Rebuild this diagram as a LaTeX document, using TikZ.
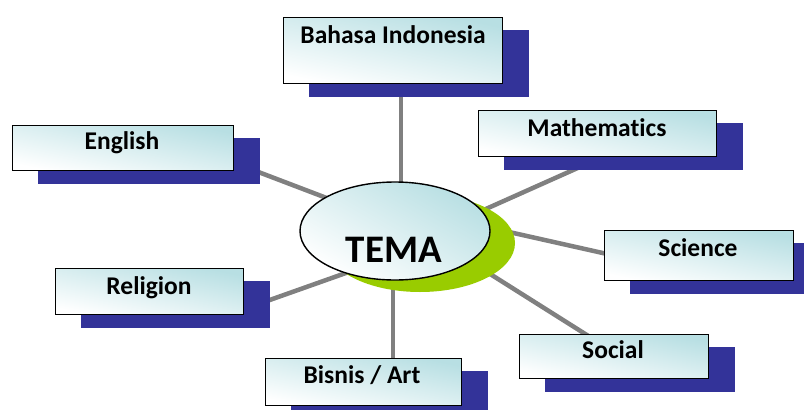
\documentclass[tikz,border=0pt]{standalone}
\usepackage{fontspec}
\setmainfont[Ligatures=NoCommon]{Carlito}
\usetikzlibrary{shapes.geometric,calc}
\definecolor{shadowblue}{RGB}{51,51,153}
\definecolor{linegray}{RGB}{128,128,128}
\definecolor{limegreen}{RGB}{153,204,0}
\definecolor{paleteal}{RGB}{184,223,227}
\pgfdeclarelayer{bg}
\pgfdeclarelayer{mid}
\pgfsetlayers{bg,mid,main}
\begin{document}
\begin{tikzpicture}[x=1pt,y=-1pt,
  conn/.style={draw=linegray,line width=4.5pt},
  shad/.style={fill=shadowblue},
  topicbox/.style={draw=black,line width=1.4pt,bottom color=white,top color=paleteal,shading angle=-12,inner sep=0pt,anchor=north west},
  lbl/.style={font=\bfseries\fontsize{25.5}{25.5}\selectfont,anchor=base,inner sep=0pt},
]
\useasboundingbox (0,0) rectangle (804,410);

% boxes
\node[topicbox,minimum width=219pt,minimum height=66pt] (bahasa) at (283,17) {};
\node[topicbox,minimum width=221pt,minimum height=45pt] (english) at (12,125) {};
\node[topicbox,minimum width=238pt,minimum height=46pt] (math) at (478,110) {};
\node[topicbox,minimum width=189pt,minimum height=50pt] (science) at (604,230) {};
\node[topicbox,minimum width=189pt,minimum height=44pt] (social) at (519,334) {};
\node[topicbox,minimum width=188pt,minimum height=46pt] (religion) at (55,268) {};
\node[topicbox,minimum width=196pt,minimum height=47pt] (bisnis) at (265,358) {};

% labels
\node[lbl] (t-bahasa) at (393,43) {Bahasa Indonesia};
\node[lbl] (t-english) at (122,149) {English};
\node[lbl] (t-math) at (597,136) {Mathematics};
\node[lbl] (t-science) at (698,256) {Science};
\node[lbl] (t-social) at (613,358) {Social};
\node[lbl] (t-religion) at (149,294) {Religion};
\node[lbl] (t-bisnis) at (362,383) {Bisnis / Art};

% shadows
\begin{pgfonlayer}{mid}
\foreach \b in {bahasa,english,math,science,social,religion,bisnis}{
  \fill[shad] ($(\b.north west)+(26,13)$) rectangle ($(\b.south east)+(26,13)$);
}
\node[ellipse,fill=limegreen,minimum width=190pt,minimum height=98pt,inner sep=0pt] (temashadow) at (420,243) {};
\end{pgfonlayer}

% central ellipse
\node[ellipse,draw=black,line width=1.4pt,bottom color=white,top color=paleteal,shading angle=-30,minimum width=190pt,minimum height=98pt,inner sep=0pt] (tema) at (395,231) {};
\node[font=\bfseries\fontsize{39}{39}\selectfont,anchor=base,inner sep=0pt] (t-tema) at (394,262) {TEMA};

% connectors
\coordinate (c-bahasa) at (401,190);
\coordinate (c-english) at (345,205);
\coordinate (e-english) at (240,165);
\coordinate (c-math) at (450,225);
\coordinate (e-math) at (600,158);
\coordinate (c-science) at (460,221);
\coordinate (e-science) at (625,258);
\coordinate (c-social) at (460,255);
\coordinate (e-social) at (590,337);
\coordinate (c-religion) at (360,268);
\coordinate (e-religion) at (250,307);
\coordinate (c-bisnis) at (393,270);
\begin{pgfonlayer}{bg}
\draw[conn] (c-bahasa) -- (c-bahasa |- bahasa.center);
\draw[conn] (c-english) -- (e-english);
\draw[conn] (c-math) -- (e-math);
\draw[conn] (c-science) -- (e-science);
\draw[conn] (c-social) -- (e-social);
\draw[conn] (c-religion) -- (e-religion);
\draw[conn] (c-bisnis) -- (c-bisnis |- bisnis.center);
\end{pgfonlayer}
\end{tikzpicture}
\end{document}
